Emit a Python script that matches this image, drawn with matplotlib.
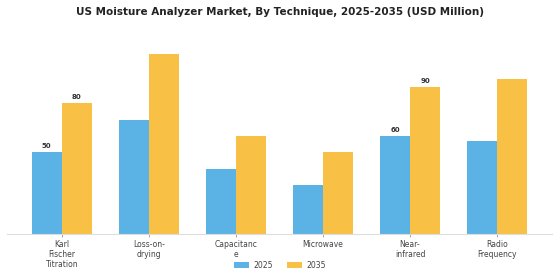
import numpy as np
import matplotlib
matplotlib.use("Agg")
from matplotlib import pyplot as plt

# data
categories = ["Karl\nFischer\nTitration", "Loss-on-\ndrying", "Capacitanc\ne",
              "Microwave", "Near-\ninfrared", "Radio\nFrequency"]
vals_2025 = [50, 70, 40, 30, 60, 57]
vals_2035 = [80, 110, 60, 50, 90, 95]
labeled = [0, 4]  # groups that carry value labels

blue = "#5AB2E5"
yellow = "#F8C145"

fig = plt.figure(figsize=(5.6, 2.8), dpi=100)
ax = fig.add_axes([0.0125, 0.164, 0.973, 0.73])

x = np.arange(len(categories))
w = 0.345
b1 = ax.bar(x - w / 2, vals_2025, w, color=blue, label="2025")
b2 = ax.bar(x + w / 2, vals_2035, w, color=yellow, label="2035")

for i in labeled:
    ax.text(x[i] - w / 2, vals_2025[i] + 2, str(vals_2025[i]), ha="center", va="bottom",
            fontsize=5, fontweight="bold", color="#333333")
    ax.text(x[i] + w / 2, vals_2035[i] + 2, str(vals_2035[i]), ha="center", va="bottom",
            fontsize=5, fontweight="bold", color="#333333")

ax.set_xlim(-0.63, 5.63)
ax.set_ylim(0, 125)
ax.set_xticks(x)
ax.set_xticklabels(categories, fontsize=5.5, color="#444444", linespacing=1.1)
ax.tick_params(axis="x", length=2, width=0.6, color="#999999", pad=2.5)
ax.set_yticks([])
for s in ["top", "right", "left"]:
    ax.spines[s].set_visible(False)
ax.spines["bottom"].set_color("#dddddd")
ax.spines["bottom"].set_linewidth(0.8)

fig.text(0.5, 0.957, "US Moisture Analyzer Market, By Technique, 2025-2035 (USD Million)",
         ha="center", va="center", fontsize=7.5, fontweight="bold", color="#222222")

fig.legend(handles=[b1, b2], loc="center", bbox_to_anchor=(0.5, 0.053), ncol=2,
           frameon=False, fontsize=5.6, handlelength=1.9, handleheight=0.7,
           columnspacing=1.8, handletextpad=0.6, labelcolor="#444444")

fig.savefig("out.png", dpi=100)
